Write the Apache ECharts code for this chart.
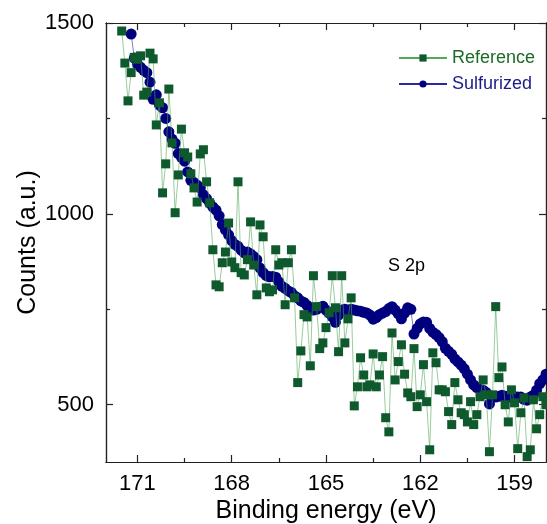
<!DOCTYPE html>
<html>
<head>
<meta charset="utf-8">
<script src="https://cdn.jsdelivr.net/npm/echarts@6/dist/echarts.min.js"></script>
<style>
  html, body { margin: 0; padding: 0; background: #fff; }
  #chart { width: 547px; height: 524px; }
</style>
</head>
<body>
<div id="chart"></div>
<script>
// energy grid of each scan (eV), 0.1 eV steps
const refStart = 171.5, sulStart = 171.2, scanStep = 0.1;

// counts, high to low binding energy
const refCounts = [
  1479, 1395, 1296, 1370, 1410, 1405, 1414, 1311, 1319, 1421,
  1406, 1233, 1291, 1055, 1131, 1327, 1186, 1003, 1102, 1222,
  1160, 1149, 1105, 1068, 1031, 1157, 1168, 1084, 1029, 906,
  814, 809, 872, 900, 976, 874, 859, 1084, 846, 840,
  880, 979, 866, 788, 971, 940, 806, 796, 801, 906,
  866, 872, 762, 872, 906, 780, 558, 641, 736, 730,
  602, 838, 757, 647, 662, 702, 741, 838, 754, 639,
  838, 662, 725, 780, 497, 547, 623, 578, 547, 552,
  633, 547, 578, 626, 466, 429, 688, 565, 613, 657,
  580, 531, 521, 647, 495, 526, 605, 508, 382, 636,
  610, 539, 539, 534, 482, 448, 558, 513, 479, 474,
  455, 508, 448, 474, 521, 565, 526, 377, 526, 757,
  571, 599, 500, 455, 539, 505, 385, 479, 518, 364,
  382, 513, 437, 474, 521, 500
];
const sulCounts = [
  1471, 1408, 1392, 1384, 1376, 1370, 1345, 1300, 1312, 1285,
  1278, 1250, 1215, 1196, 1185, 1158, 1148, 1138, 1110, 1088,
  1082, 1075, 1068, 1050, 1040, 1028, 1018, 1010, 995, 972,
  958, 945, 930, 920, 915, 905, 898, 900, 895, 888,
  880, 858, 846, 838, 835, 836, 834, 822, 810, 805,
  798, 794, 785, 780, 772, 768, 760, 752, 748, 750,
  755, 758, 748, 740, 730, 716, 735, 748, 750, 748,
  750, 748, 746, 745, 742, 740, 735, 724, 728, 736,
  740, 744, 752, 757, 748, 738, 725, 740, 754, 750,
  685, 700, 712, 717, 716, 700, 690, 684, 676, 665,
  648, 640, 632, 620, 612, 604, 594, 580, 565, 552,
  545, 540, 538, 532, 502, 522, 520, 522, 525, 522,
  520, 519, 521, 520, 520, 514, 512, 520, 525, 538,
  555, 565, 580
];

const xMajor = [159, 162, 165, 168, 171];
const xMinor = [160.5, 163.5, 166.5, 169.5];
const yMajor = [500, 1000, 1500];
const yMinor = [750, 1250];

function pairs(start, counts) {
  return counts.map((c, i) => [+(start - i * scanStep).toFixed(1), c]);
}

const font = "'Liberation Sans', Arial, sans-serif";
const lineCol = '#222';

function xAx(pos, ticks, len, extra) {
  return Object.assign({
    type: 'value', position: pos, min: 158, max: 172, inverse: true,
    axisLine: { show: true, onZero: false, lineStyle: { color: lineCol, width: 1.2 } },
    axisTick: { show: true, inside: true, length: len, customValues: ticks, lineStyle: { color: lineCol, width: 1.2 } },
    axisLabel: { show: false },
    splitLine: { show: false }
  }, extra || {});
}
function yAx(pos, ticks, len, extra) {
  return Object.assign({
    type: 'value', position: pos, min: 350, max: 1500,
    axisLine: { show: true, onZero: false, lineStyle: { color: lineCol, width: 1.2 } },
    axisTick: { show: true, inside: true, length: len, customValues: ticks, lineStyle: { color: lineCol, width: 1.2 } },
    axisLabel: { show: false },
    splitLine: { show: false }
  }, extra || {});
}

const chart = echarts.init(document.getElementById('chart'));
chart.setOption({
  animation: false,
  backgroundColor: '#fff',
  textStyle: { fontFamily: font },
  grid: { left: 106, top: 23, right: 1, bottom: 62, containLabel: false, outerBoundsMode: 'none' },
  xAxis: [
    xAx('bottom', xMajor, 7, {
      axisLabel: { show: true, customValues: xMajor, fontSize: 22, color: '#000', margin: 11, fontFamily: font },
      name: 'Binding energy (eV)', nameLocation: 'middle', nameGap: 37, nameMoveOverlap: false,
      nameTextStyle: { fontSize: 25, color: '#000', fontFamily: font }
    }),
    xAx('bottom', xMinor, 4),
    xAx('top', xMajor, 7),
    xAx('top', xMinor, 4)
  ],
  yAxis: [
    yAx('left', yMajor, 7, {
      axisLabel: { show: true, customValues: yMajor, fontSize: 22, color: '#000', margin: 12, fontFamily: font,
        formatter: v => String(v) },
      name: 'Counts (a.u.)', nameLocation: 'middle', nameGap: 65, nameMoveOverlap: false,
      nameTextStyle: { fontSize: 25, color: '#000', fontFamily: font }
    }),
    yAx('left', yMinor, 4),
    yAx('right', yMajor, 7),
    yAx('right', yMinor, 4)
  ],
  legend: {
    orient: 'vertical', left: 393, top: 44,
    itemWidth: 48, itemHeight: 9, itemGap: 8,
    textStyle: { fontSize: 18, fontFamily: font },
    data: [
      { name: 'Reference', textStyle: { color: '#1b6b28' } },
      { name: 'Sulfurized', textStyle: { color: '#1a1a8a' } }
    ]
  },
  graphic: [{
    type: 'text', left: 388, top: 257,
    style: { text: 'S 2p', fontSize: 18, fill: '#000', fontFamily: font }
  }],
  series: [
    {
      name: 'Sulfurized', type: 'line', z: 2,
      data: pairs(sulStart, sulCounts),
      symbol: 'circle', symbolSize: 11,
      itemStyle: { color: '#00007f' },
      lineStyle: { color: '#2a2aa0', width: 0.6 }
    },
    {
      name: 'Reference', type: 'line', z: 3,
      data: pairs(refStart, refCounts),
      symbol: 'rect', symbolSize: 9,
      itemStyle: { color: '#0e5a2d' },
      lineStyle: { color: '#55a85a', width: 0.6 }
    }
  ]
});
</script>
</body>
</html>
